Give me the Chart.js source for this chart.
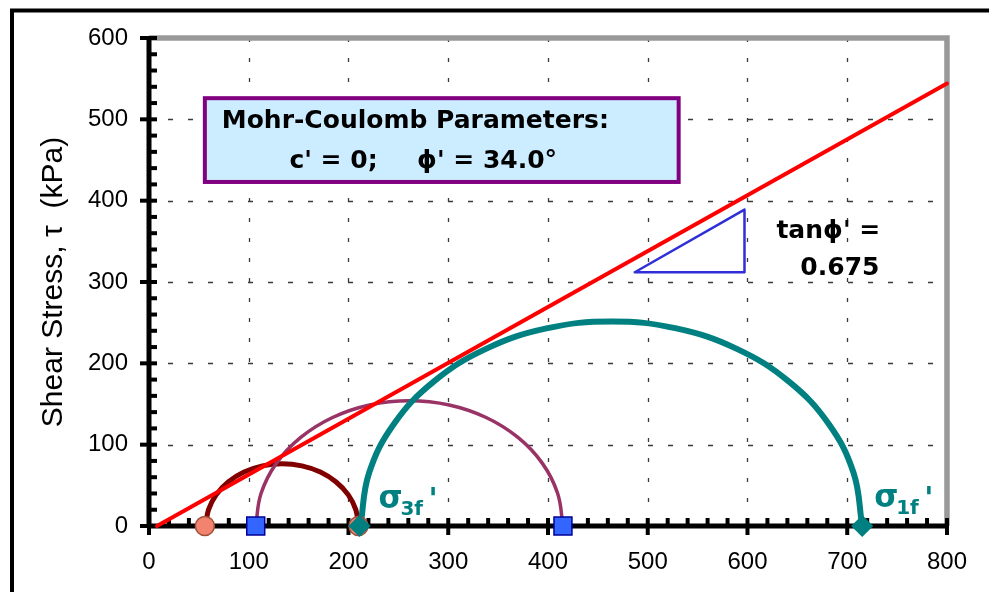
<!DOCTYPE html>
<html><head><meta charset="utf-8">
<script src="https://cdn.jsdelivr.net/npm/chart.js@4.4.1/dist/chart.umd.min.js"></script>
<style>html,body{margin:0;padding:0;background:#fff;overflow:hidden}canvas{display:block}</style>
</head><body>
<canvas id="c" width="989" height="592"></canvas>
<script>
// ---- data ----
const xTickValues = [0, 100, 200, 300, 400, 500, 600, 700, 800];
const yTickValues = [0, 100, 200, 300, 400, 500, 600];

const envelopeSigma = [8, 800];
const envelopeTau = [0, 544];

const circleASigma = [57, 59.6, 67.3, 79.4, 95.3, 113.7, 133.5, 153.3, 171.8, 187.6, 199.8, 207.4, 210];
const circleATau   = [0, 19.8, 38.3, 54.1, 66.3, 73.9, 76.5, 73.9, 66.3, 54.1, 38.3, 19.8, 0];

const circleBSigma = [107, 112.3, 127.6, 152.1, 184, 221.1, 261, 300.9, 338, 369.9, 394.4, 409.7, 415];
const circleBTau   = [0, 39.9, 77, 108.9, 133.4, 148.8, 154, 148.8, 133.4, 108.9, 77, 39.9, 0];

const circleCSigma = [212, 220.6, 245.7, 285.7, 337.8, 398.4, 463.5, 528.6, 589.3, 641.3, 681.3, 706.4, 715];
const circleCTau   = [0, 65.1, 125.8, 177.8, 217.8, 242.9, 251.5, 242.9, 217.8, 177.8, 125.8, 65.1, 0];

const slopeSigma = [487, 597, 597, 487];
const slopeTau   = [312, 312, 389, 312];

const testASigma = [56, 210];  const testATau = [0, 0];
const testBSigma = [107, 415]; const testBTau = [0, 0];
const testCSigma = [211, 715]; const testCTau = [0, 0];

const yTitle = 'Shear Stress, τ  (kPa)';
const boxLine1 = 'Mohr-Coulomb Parameters:';
const boxLine2a = "c' = 0;";
const boxLine2b = "ϕ' = 34.0°";
const tanLine1 = "tanϕ' =";
const tanLine2 = '0.675';

// ---- rendering ----
const FAMILY = "'DejaVu Sans', 'Liberation Sans', sans-serif";
const TICK_FAMILY = "'Liberation Sans', Arial, sans-serif";
const pts = (xs, ys) => xs.map((v, i) => ({x: v, y: ys[i]}));

function drawText(ctx, s, px, py, size, color, bold, family) {
  ctx.font = (bold ? 'bold ' : '') + size + 'px ' + (family || FAMILY);
  ctx.fillStyle = color;
  ctx.textAlign = 'left';
  ctx.textBaseline = 'alphabetic';
  ctx.fillText(s, px, py);
}

const decor = {
  id: 'decor',
  beforeDraw(chart) {
    const ctx = chart.ctx;
    ctx.save();
    ctx.fillStyle = '#fff';
    ctx.fillRect(0, 0, chart.width, chart.height);
    ctx.strokeStyle = '#000';
    ctx.lineWidth = 4;
    ctx.beginPath();
    ctx.moveTo(10, 10.5); ctx.lineTo(chart.width, 10.5);
    ctx.moveTo(12, 8.5); ctx.lineTo(12, chart.height);
    ctx.stroke();
    ctx.restore();
  },
  beforeDatasetsDraw(chart) {
    const {ctx, chartArea: a, scales: {x, y}} = chart;
    ctx.save();
    // dashed grid
    ctx.strokeStyle = '#3a3a3a';
    ctx.lineWidth = 1.3;
    ctx.setLineDash([5, 15]);
    ctx.lineDashOffset = 1;
    yTickValues.forEach(v => {
      if (v === y.min || v === y.max) return;
      const py = Math.round(y.getPixelForValue(v)) + 0.5;
      ctx.beginPath(); ctx.moveTo(a.left, py); ctx.lineTo(a.right, py); ctx.stroke();
    });
    ctx.setLineDash([4, 16]);
    ctx.lineDashOffset = 0;
    xTickValues.forEach(v => {
      if (v === x.min || v === x.max) return;
      const px = Math.round(x.getPixelForValue(v)) + 0.5;
      ctx.beginPath(); ctx.moveTo(px, a.top); ctx.lineTo(px, a.bottom); ctx.stroke();
    });
    ctx.setLineDash([]);
    // parameter box
    const bx1 = x.getPixelForValue(56), bx2 = x.getPixelForValue(531);
    const by1 = y.getPixelForValue(526), by2 = y.getPixelForValue(423);
    ctx.fillStyle = '#CCECFF';
    ctx.fillRect(bx1, by1, bx2 - bx1, by2 - by1);
    ctx.strokeStyle = '#800080';
    ctx.lineWidth = 4;
    ctx.strokeRect(bx1, by1, bx2 - bx1, by2 - by1);
    // grey top / right frame
    ctx.strokeStyle = '#999999';
    ctx.lineWidth = 5.5;
    ctx.beginPath();
    ctx.moveTo(a.left, a.top); ctx.lineTo(a.right, a.top); ctx.lineTo(a.right, a.bottom);
    ctx.stroke();
    // black axes
    ctx.strokeStyle = '#000';
    ctx.lineWidth = 5;
    ctx.beginPath();
    ctx.moveTo(a.left, a.top - 1); ctx.lineTo(a.left, a.bottom + 2);
    ctx.moveTo(a.left - 2, a.bottom); ctx.lineTo(a.right + 2, a.bottom);
    ctx.stroke();
    // tick marks (major every 100, minor every 20)
    ctx.lineWidth = 4;
    for (let v = x.min; v <= x.max; v += 20) {
      const px = x.getPixelForValue(v);
      const major = v % 100 === 0;
      ctx.beginPath(); ctx.moveTo(px, a.bottom - 8); ctx.lineTo(px, a.bottom + (major ? 9 : 0)); ctx.stroke();
    }
    for (let v = y.min; v <= y.max; v += 20) {
      const py = y.getPixelForValue(v);
      const major = v % 100 === 0;
      ctx.beginPath(); ctx.moveTo(a.left + 8, py); ctx.lineTo(a.left - (major ? 9 : 0), py); ctx.stroke();
    }
    // box text
    drawText(ctx, boxLine1, x.getPixelForValue(73), y.getPixelForValue(489.4), 25, '#000', true);
    drawText(ctx, boxLine2a, x.getPixelForValue(140.8), y.getPixelForValue(440.2), 25, '#000', true);
    drawText(ctx, boxLine2b, x.getPixelForValue(268.7), y.getPixelForValue(440.2), 25, '#000', true);
    ctx.restore();
  },
  afterDatasetsDraw(chart) {
    const {ctx, scales: {x, y}} = chart;
    ctx.save();
    drawText(ctx, tanLine1, x.getPixelForValue(629), y.getPixelForValue(354.1), 25, '#000', true);
    drawText(ctx, tanLine2, x.getPixelForValue(653), y.getPixelForValue(308.6), 25, '#000', true);
    const sigmaLabel = (sx, sy, sub) => {
      const px = x.getPixelForValue(sx), py = y.getPixelForValue(sy);
      drawText(ctx, 'σ', px, py, 31, '#008080', true);
      drawText(ctx, sub, px + 22, py + 7, 20, '#008080', true);
      drawText(ctx, "'", px + 50, py + 1, 30, '#008080', true);
    };
    sigmaLabel(230, 22.1, '3f');
    sigmaLabel(727, 23.7, '1f');
    ctx.restore();
  }
};

const lineDs = (label, xs, ys, color, width, order, tension) => ({
  label, data: pts(xs, ys), showLine: true, borderColor: color, borderWidth: width,
  pointRadius: 0, pointHoverRadius: 0, fill: false, tension: tension, clip: false,
  borderCapStyle: 'round', borderJoinStyle: 'round', order
});
const markDs = (label, xs, ys, style, radius, fillC, lineC, order) => ({
  label, data: pts(xs, ys), showLine: false, pointStyle: style, pointRadius: radius,
  pointHoverRadius: radius, pointBackgroundColor: fillC, pointBorderColor: lineC,
  pointBorderWidth: 1.5, backgroundColor: fillC, borderColor: lineC, clip: false, order
});

new Chart(document.getElementById('c'), {
  type: 'scatter',
  data: {
    datasets: [
      lineDs('slope', slopeSigma, slopeTau, '#2F2FD8', 2.5, 10, 0),
      lineDs('circle A', circleASigma, circleATau, '#800000', 5, 9, 0.4),
      lineDs('circle B', circleBSigma, circleBTau, '#993366', 3.5, 8, 0.4),
      lineDs('circle C', circleCSigma, circleCTau, '#008080', 6, 7, 0.4),
      lineDs('envelope', envelopeSigma, envelopeTau, '#FF0000', 4, 6, 0),
      markDs('test A', testASigma, testATau, 'circle', 9.5, '#F2846F', '#A0503A', 5),
      markDs('test B', testBSigma, testBTau, 'rect', 12.7, '#3366FF', '#000099', 4),
      markDs('test C', testCSigma, testCTau, 'rectRot', 10, '#008080', '#008080', 3)
    ]
  },
  options: {
    responsive: false,
    animation: false,
    devicePixelRatio: 1,
    layout: {padding: {left: 0, right: 35, top: 38, bottom: 0}},
    plugins: {legend: {display: false}, tooltip: {enabled: false}},
    scales: {
      x: {
        type: 'linear', min: 0, max: 800,
        afterBuildTicks: s => { s.ticks = xTickValues.map(v => ({value: v})); },
        afterFit: s => { s.height = 66; },
        grid: {display: false, drawTicks: false},
        border: {display: false},
        ticks: {autoSkip: false, maxRotation: 0, padding: 22, color: '#000',
                font: {family: TICK_FAMILY, size: 24}}
      },
      y: {
        type: 'linear', min: 0, max: 600,
        afterBuildTicks: s => { s.ticks = yTickValues.map(v => ({value: v})); },
        afterFit: s => { s.width = 149; },
        grid: {display: false, drawTicks: false},
        border: {display: false},
        ticks: {autoSkip: false, padding: 21, color: '#000',
                font: {family: TICK_FAMILY, size: 24}},
        title: {display: true, text: yTitle, color: '#000',
                font: {family: TICK_FAMILY, size: 30}, padding: {top: 36, bottom: 0}}
      }
    }
  },
  plugins: [decor]
});
</script>
</body></html>
